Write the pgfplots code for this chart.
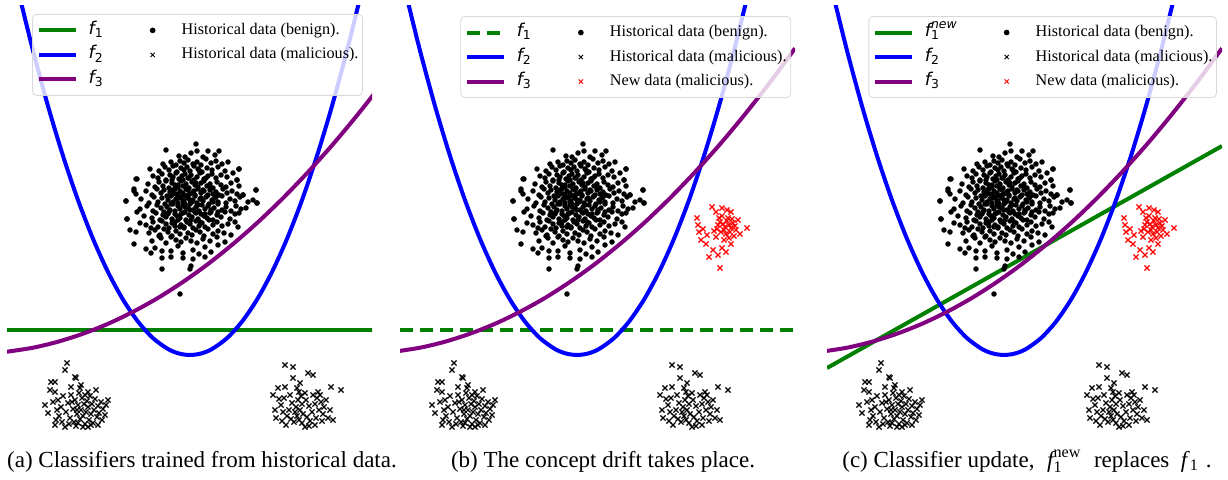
\documentclass[border=0pt]{standalone}
\usepackage{pgfplots}
\pgfplotsset{compat=1.18}
\usepackage{pgfplotstable}
\usepackage{amsmath}
\usepackage{fontspec}
\setmainfont{Liberation Serif}
\newfontfamily\djv{DejaVu Sans}
\definecolor{mgreen}{HTML}{008000}
\definecolor{mblue}{HTML}{0000FF}
\definecolor{mpurple}{HTML}{800080}
\definecolor{mred}{HTML}{FF0000}

\newcommand\fl[1]{{\djv\fontsize{8.8}{9}\selectfont\itshape f}\raisebox{-0.45ex}{\djv\fontsize{6.2}{6}\selectfont #1}}
\newcommand\flnew{{\djv\fontsize{8.8}{9}\selectfont\itshape f}\rlap{\raisebox{-0.45ex}{\djv\fontsize{6.2}{6}\selectfont 1}}\raisebox{1.1ex}{\djv\fontsize{6.2}{6}\selectfont\itshape new}}

\pgfplotstableread[row sep=\\]{x y\\
150 276\\158 278\\163 275\\167 279\\171 277\\175 280\\180 276\\184 278\\188 275\\193 281\\198 277\\203 279\\209 276\\215 278\\
183 296\\184 289\\178 287\\153 290\\195 289\\206 289\\166 284\\190 283\\202 285\\172 283\\
137 271\\146 269\\152 273\\156 270\\160 274\\164 268\\168 272\\171 270\\174 273\\177 269\\181 274\\185 271\\189 268\\194 272\\199 270\\205 273\\212 269\\226 271\\
124 261\\140 264\\145 262\\149 266\\153 260\\157 265\\160 263\\163 267\\166 261\\169 264\\172 266\\175 262\\178 265\\181 260\\184 263\\187 267\\191 261\\195 264\\199 266\\203 262\\208 265\\214 263\\220 267\\224 260\\
121 251\\135 256\\142 253\\146 258\\150 254\\153 259\\156 252\\159 257\\162 255\\165 253\\168 259\\170 254\\173 256\\176 252\\179 258\\182 255\\185 253\\188 257\\191 259\\194 254\\197 256\\200 252\\204 258\\208 255\\213 253\\218 257\\226 254\\243 250\\
123 246\\133 249\\139 245\\144 251\\148 247\\151 250\\154 244\\157 248\\160 246\\162 251\\165 245\\167 249\\170 247\\172 244\\175 250\\177 246\\180 248\\182 245\\185 251\\188 247\\191 249\\194 244\\197 250\\200 246\\203 248\\206 245\\210 251\\214 247\\219 249\\224 246\\230 245\\244 237\\
113 239\\128 241\\136 237\\141 243\\145 238\\149 242\\152 236\\155 240\\158 244\\160 238\\163 241\\165 237\\168 243\\170 239\\172 236\\175 242\\177 240\\179 238\\182 244\\184 237\\187 241\\190 239\\193 243\\196 236\\199 240\\202 242\\205 238\\209 244\\213 237\\217 241\\222 239\\227 243\\235 238\\240 240\\
127 231\\134 234\\140 229\\144 235\\148 232\\151 228\\154 233\\157 230\\160 236\\162 229\\165 234\\167 231\\170 235\\172 228\\175 232\\177 236\\180 230\\183 233\\186 229\\189 235\\192 231\\195 234\\198 228\\201 232\\205 236\\209 230\\213 233\\218 229\\223 234\\228 231\\124 228\\233 232\\
114 221\\131 224\\139 222\\143 227\\147 220\\150 225\\153 223\\156 228\\159 221\\162 226\\164 224\\167 222\\170 227\\173 220\\176 225\\179 223\\182 228\\185 221\\188 226\\191 224\\194 222\\197 227\\200 220\\204 225\\208 223\\212 228\\217 221\\222 226\\
133 215\\140 218\\145 213\\149 219\\153 216\\156 212\\159 217\\162 214\\165 220\\168 215\\171 213\\174 218\\177 216\\180 212\\183 219\\186 214\\189 217\\192 213\\196 220\\200 215\\204 218\\209 214\\215 216\\138 212\\
136 207\\142 210\\147 205\\151 211\\155 208\\159 204\\163 209\\167 206\\171 212\\175 207\\179 205\\183 210\\187 208\\191 204\\195 211\\200 206\\205 209\\211 207\\218 205\\146 204\\
139 199\\148 202\\153 197\\158 203\\163 200\\168 198\\173 202\\178 199\\184 197\\190 201\\197 199\\204 203\\
142 192\\149 189\\158 189\\165 194\\170 187\\180 190\\186 186\\192 193\\198 188\\205 195\\
149 182\\158 183\\170 182\\180 181\\192 183\\
123 261\\121 249\\113 239\\114 221\\127 217\\117 210\\123 208\\121 196\\243 250\\244 237\\230 245\\226 271\\224 260\\226 227\\222 218\\225 213\\212 198\\149 171\\177 171\\178 174\\167 146\\133 191\\138 187\\
160 250\\165 255\\170 260\\175 245\\180 240\\185 235\\190 250\\195 245\\200 238\\172 233\\168 226\\178 220\\183 227\\188 242\\158 236\\163 246\\173 251\\183 257\\193 262\\198 230\\205 228\\155 226\\162 218\\176 262\\186 270\\166 242\\192 226\\181 249\\171 239\\197 253\\159 260\\203 243\\177 230\\187 218\\167 213\\
}\benign

\pgfplotstableread[row sep=\\]{x y\\
54 77\\52 70\\38 58\\42 58\\37 50\\42 48\\62 63\\63 62\\58 53\\67 52\\83 50\\75 48\\95 40\\32 35\\35 27\\42 15\\52 13\\75 13\\85 15\\65 17\\
45 40\\48 33\\50 44\\53 28\\55 37\\57 22\\58 45\\60 31\\61 18\\62 40\\64 26\\65 35\\66 47\\67 21\\68 30\\69 42\\70 24\\71 36\\72 16\\73 28\\74 39\\75 33\\76 20\\77 44\\78 26\\79 36\\80 17\\81 30\\82 41\\84 23\\85 34\\86 27\\88 38\\89 20\\90 31\\92 25\\93 35\\46 24\\44 30\\40 38\\43 20\\49 18\\56 16\\63 14\\70 13\\78 15\\68 55\\72 45\\59 38\\64 30\\
272 75\\280 73\\295 67\\300 65\\280 62\\287 57\\318 53\\328 50\\265 52\\272 53\\260 45\\305 48\\263 22\\273 15\\315 22\\292 13\\302 15\\
284 52\\286 48\\288 44\\285 40\\289 36\\283 33\\287 30\\290 26\\284 24\\282 28\\286 20\\289 17\\279 37\\276 30\\274 24\\270 28\\268 35\\266 41\\271 42\\277 45\\293 40\\296 34\\299 28\\302 36\\304 42\\306 30\\308 38\\310 26\\303 22\\297 19\\294 23\\307 45\\311 33\\313 40\\300 45\\292 47\\281 18\\278 21\\269 19\\296 14\\309 19\\317 30\\320 20\\262 30\\
}\malicious

\pgfplotstableread[row sep=\\]{x y\\
312 233\\322 232\\327 230\\316 228\\331 228\\297 222\\347 212\\320 172\\
318 215\\320 218\\323 216\\325 213\\327 219\\329 215\\331 212\\324 210\\321 208\\326 206\\330 208\\333 217\\335 214\\317 211\\319 222\\328 222\\332 221\\322 224\\314 209\\336 210\\338 220\\316 203\\324 200\\329 202\\334 204\\340 206\\298 215\\299 208\\303 211\\301 200\\307 205\\306 196\\313 190\\318 185\\322 192\\326 188\\331 196\\309 183\\
}\newmal

\pgfplotstableread[row sep=\\]{x y\\
7 441.9\\20 389.4\\35 334.0\\50 284.2\\65 239.9\\80 201.2\\95 168.0\\110 140.4\\125 118.4\\140 101.9\\155 91.0\\166 86.5\\177 85\\188 86.5\\199 91.0\\214 101.9\\229 118.4\\244 140.4\\259 168.0\\274 201.2\\289 239.9\\304 284.2\\319 334.0\\334 389.4\\347 441.9\\
}\ftwo

\pgfplotstableread[row sep=\\]{x y\\
-6 88.3\\20 92.3\\45 98.3\\70 106.3\\95 116.2\\120 128.2\\145 142.1\\170 158.1\\195 176.0\\220 196.0\\245 217.9\\270 241.9\\295 267.9\\320 295.8\\345 325.8\\370 357.7\\395 391.7\\
}\fthree

\pgfplotsset{
  lineleg/.style={legend image code/.code={\draw[##1] (0pt,0pt) -- (18.5pt,0pt);}},
  markleg/.style={legend image code/.code={\path[draw=none,fill=none] (0pt,0pt) -- (10pt,0pt); \draw[##1,fill opacity=1] plot coordinates {(5pt,0pt)};}},
  panel/.style={hide axis, scale only axis, height=214pt, ymin=7, ymax=435,
    legend columns=2, legend cell align=left,
    legend style={anchor=north east, draw=black!15, rounded corners=2pt, fill=white,
      fill opacity=0.8, text opacity=1, draw opacity=1, inner xsep=2pt, inner ysep=4pt,
      font=\fontsize{8.1}{9}\selectfont, row sep=4.25pt,
      nodes={inner sep=0pt, text height=6pt, text depth=2pt},
      /tikz/column 1/.style={column sep=5.5pt},
      /tikz/column 2/.style={column sep=20pt},
      /tikz/column 3/.style={column sep=9.5pt}}},
  ben/.style={only marks, mark=*, mark size=1.15pt, black},
  mal/.style={only marks, mark=x, mark size=1.8pt, black, mark options={line width=0.6pt}},
  nmal/.style={only marks, mark=x, mark size=1.8pt, mred, mark options={line width=0.6pt}},
  cl/.style={line width=2pt},
}

\begin{document}
\begin{tikzpicture}
\useasboundingbox (0,0) rectangle (614pt,239.5pt);

% Panel (a)
\begin{axis}[panel, at={(3.5pt,23pt)}, anchor=south west, width=182.5pt, xmin=-6, xmax=359,
  legend style={at={(axis description cs:0.975,0.979)}}]
\addplot[cl, mgreen, forget plot] coordinates {(-6,110) (395,110)};
\addplot[cl, mblue, smooth, forget plot] table {\ftwo};
\addplot[cl, mpurple, smooth, forget plot] table {\fthree};
\addplot[ben, forget plot] table {\benign};
\addplot[mal, forget plot] table {\malicious};
\addlegendimage{lineleg, cl, mgreen}
\addlegendentry{\fl{1}}
\addlegendimage{markleg, only marks, mark=*, mark size=1.2pt, black}
\addlegendentry{Historical data (benign).}
\addlegendimage{lineleg, cl, mblue}
\addlegendentry{\fl{2}}
\addlegendimage{markleg, only marks, mark=x, mark size=1.5pt, black, line width=0.45pt}
\addlegendentry{Historical data (malicious).}
\addlegendimage{lineleg, cl, mpurple}
\addlegendentry{\fl{3}}
\end{axis}

% Panel (b)
\begin{axis}[panel, at={(200pt,23pt)}, anchor=south west, width=197.5pt, xmin=0, xmax=395,
  legend style={at={(axis description cs:0.990,0.974)}}]
\addplot[cl, mgreen, dash pattern=on 6.5pt off 3.5pt, forget plot] coordinates {(0,110) (395,110)};
\addplot[cl, mblue, smooth, forget plot] table {\ftwo};
\addplot[cl, mpurple, smooth, forget plot] table {\fthree};
\addplot[ben, forget plot] table {\benign};
\addplot[mal, forget plot] table {\malicious};
\addplot[nmal, forget plot] table {\newmal};
\addlegendimage{lineleg, cl, mgreen, dash pattern=on 6.5pt off 3.5pt}
\addlegendentry{\fl{1}}
\addlegendimage{markleg, only marks, mark=*, mark size=1.2pt, black}
\addlegendentry{Historical data (benign).}
\addlegendimage{lineleg, cl, mblue}
\addlegendentry{\fl{2}}
\addlegendimage{markleg, only marks, mark=x, mark size=1.5pt, black, line width=0.45pt}
\addlegendentry{Historical data (malicious).}
\addlegendimage{lineleg, cl, mpurple}
\addlegendentry{\fl{3}}
\addlegendimage{markleg, only marks, mark=x, mark size=1.5pt, mred, line width=0.45pt}
\addlegendentry{New data (malicious).}
\end{axis}

% Panel (c)
\begin{axis}[panel, at={(413.5pt,23pt)}, anchor=south west, width=197.5pt, xmin=0, xmax=395,
  legend style={at={(axis description cs:0.987,0.974)}}]
\addplot[cl, mgreen, forget plot] coordinates {(0,72) (395,294)};
\addplot[cl, mblue, smooth, forget plot] table {\ftwo};
\addplot[cl, mpurple, smooth, forget plot] table {\fthree};
\addplot[ben, forget plot] table {\benign};
\addplot[mal, forget plot] table {\malicious};
\addplot[nmal, forget plot] table {\newmal};
\addlegendimage{lineleg, cl, mgreen}
\addlegendentry{\flnew}
\addlegendimage{markleg, only marks, mark=*, mark size=1.2pt, black}
\addlegendentry{Historical data (benign).}
\addlegendimage{lineleg, cl, mblue}
\addlegendentry{\fl{2}}
\addlegendimage{markleg, only marks, mark=x, mark size=1.5pt, black, line width=0.45pt}
\addlegendentry{Historical data (malicious).}
\addlegendimage{lineleg, cl, mpurple}
\addlegendentry{\fl{3}}
\addlegendimage{markleg, only marks, mark=x, mark size=1.5pt, mred, line width=0.45pt}
\addlegendentry{New data (malicious).}
\end{axis}

\begin{scope}[every node/.style={anchor=base, font=\fontsize{11.5}{13}\selectfont, inner sep=0pt}]
\node at (101pt,6pt) {(a) Classifiers trained from historical data.};
\node at (301.5pt,6pt) {(b) The concept drift takes place.};
\node at (513.5pt,6pt) {(c) Classifier update,\hspace{0.55em}$\textit{f}_{\text{1}}^{\text{new}}$\hspace{0.55em}replaces\hspace{0.5em}\textit{f}$_{\text{1}}$\hspace{0.3em}.};
\end{scope}
\end{tikzpicture}
\end{document}
